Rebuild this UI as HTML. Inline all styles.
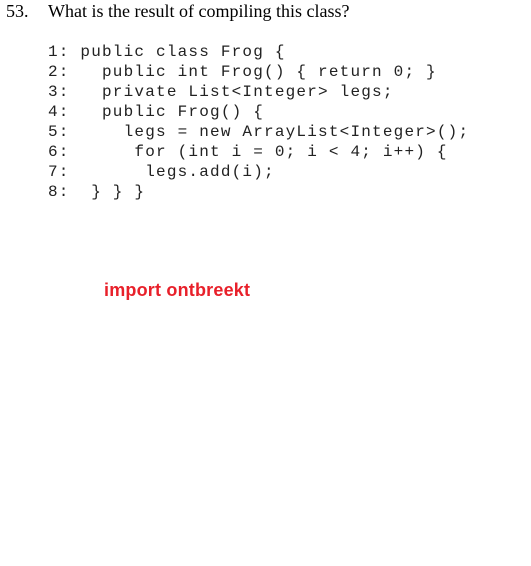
<!DOCTYPE html>
<html><head><meta charset="utf-8"><style>
html,body{margin:0;padding:0;background:#fff;width:531px;height:566px;overflow:hidden;position:relative}
.t{position:absolute;font-family:"Liberation Serif",serif;font-size:18px;color:#000;top:1px;white-space:pre}
pre{position:absolute;left:48px;top:42px;margin:0;font-family:"Liberation Mono",monospace;font-size:16px;line-height:20px;letter-spacing:1.2px;color:#222}
.r{position:absolute;left:104px;top:280px;font-family:"Liberation Sans",sans-serif;font-weight:bold;font-size:18px;color:#e8202a;letter-spacing:0.2px}
</style></head><body>
<div class="t" style="left:6px">53.</div>
<div class="t" style="left:48px">What is the result of compiling this class?</div>
<pre>1: public class Frog {
2:   public int Frog() { return 0; }
3:   private List&lt;Integer&gt; legs;
4:   public Frog() {
5:     legs = new ArrayList&lt;Integer&gt;();
6:      for (int i = 0; i &lt; 4; i++) {
7:       legs.add(i);
8:  } } }</pre>
<div class="r">import ontbreekt</div>
</body></html>
